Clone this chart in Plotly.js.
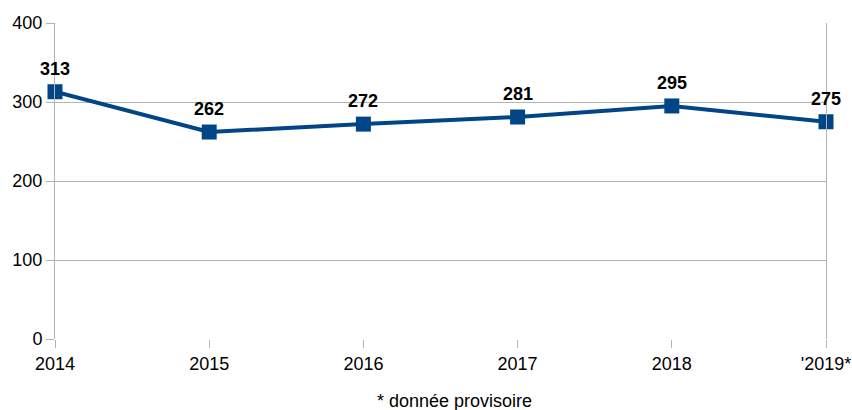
<!DOCTYPE html>
<html><head><meta charset="utf-8">
<script src="https://cdn.plot.ly/plotly-3.0.1.min.js"></script>
<style>body{margin:0;padding:0;background:#fff}#chart{width:852px;height:410px}</style>
</head><body><div id="chart"></div>
<script>
const years = ["2014", "2015", "2016", "2017", "2018", "'2019*"];
const values = [313, 262, 272, 281, 295, 275];
const yTicks = [0, 100, 200, 300, 400];
const footnote = "* donnée provisoire";

const trace = {
  x: years, y: values, type: 'scatter', mode: 'lines+markers',
  line: {color: '#004586', width: 4},
  marker: {symbol: 'square', size: 15, color: '#004586'},
  cliponaxis: false, hoverinfo: 'skip'
};
const labelAnns = years.map((yr, i) => ({
  x: i, y: values[i], xref: 'x', yref: 'y', text: '<b>' + values[i] + '</b>',
  showarrow: false, xanchor: 'center', yanchor: 'middle', yshift: 23,
  font: {family: 'Liberation Sans, Arial, sans-serif', size: 18, color: '#000'}
}));
const layout = {
  width: 852, height: 410,
  margin: {l: 55, r: 26, t: 23, b: 71},
  paper_bgcolor: '#fff', plot_bgcolor: '#fff',
  font: {family: 'Liberation Sans, Arial, sans-serif', size: 18, color: '#000'},
  showlegend: false,
  xaxis: {type: 'category', range: [0, 5], showgrid: false, zeroline: false,
    ticks: 'outside', ticklen: 8, tickcolor: '#b3b3b3', tickwidth: 1,
    showline: false, fixedrange: true},
  yaxis: {range: [0, 400], tickvals: yTicks, showgrid: true, gridcolor: '#b3b3b3', gridwidth: 1,
    zeroline: false, ticks: 'outside', ticklen: 8, tickcolor: '#b3b3b3',
    showline: true, mirror: true, linecolor: '#b3b3b3', linewidth: 1, fixedrange: true},
  annotations: labelAnns.concat([{text: footnote, xref: 'paper', yref: 'paper', x: 0.5187, y: 0, yshift: -62,
    showarrow: false, xanchor: 'center', yanchor: 'middle', font: {size: 18, color: '#000'}}])
};
Plotly.newPlot('chart', [trace], layout, {displayModeBar: false, staticPlot: true});
</script></body></html>
